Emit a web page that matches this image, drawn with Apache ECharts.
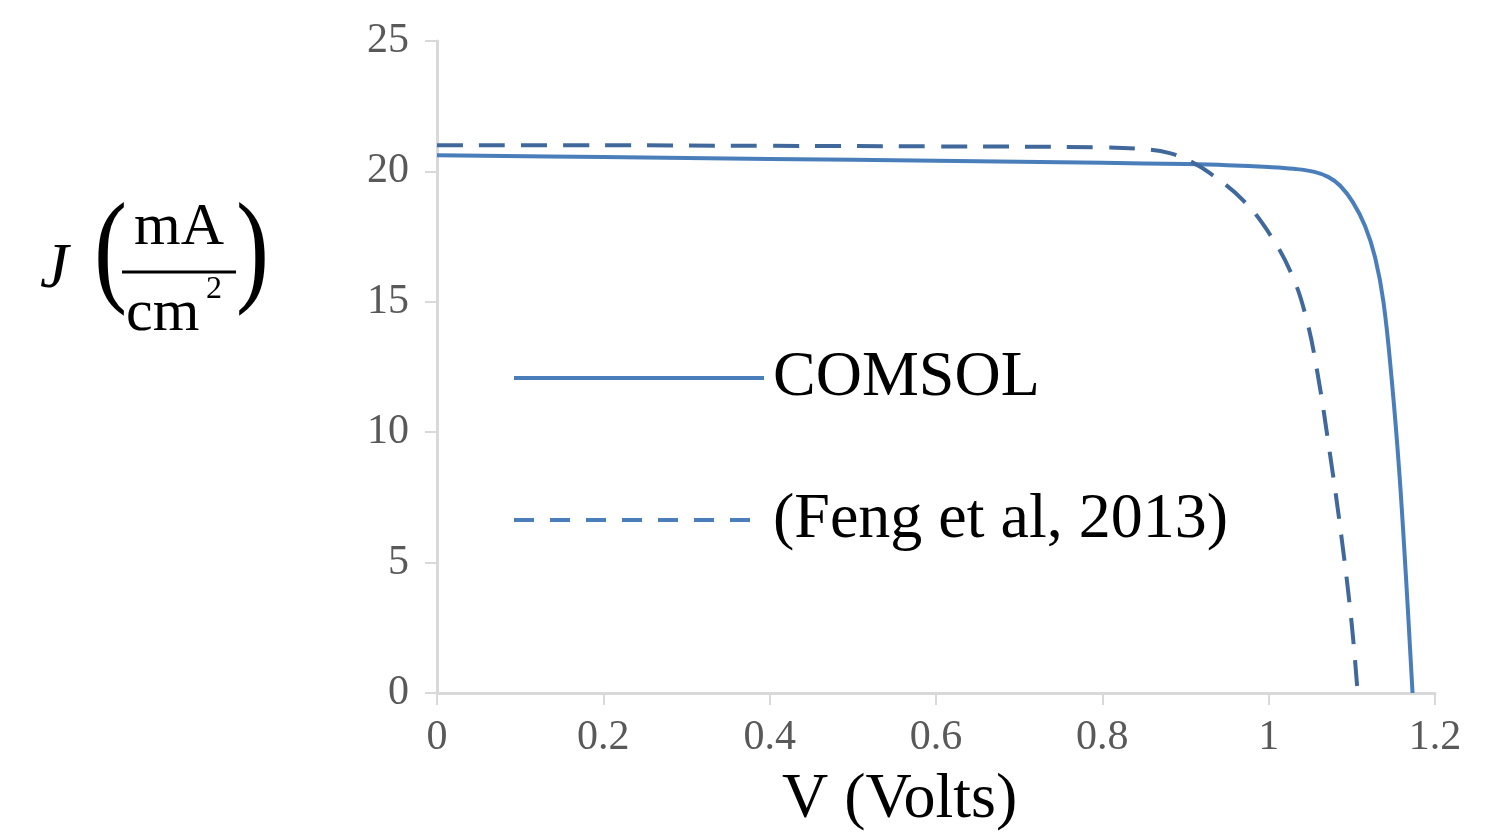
<!DOCTYPE html>
<html>
<head>
<meta charset="utf-8">
<script src="https://cdn.jsdelivr.net/npm/echarts@6/dist/echarts.min.js"></script>
<style>
  html, body { margin: 0; padding: 0; background: #fff; }
  #chart { width: 1506px; height: 840px; }
</style>
</head>
<body>
<div id="chart"></div>
<script>
// values: [V (Volts), J (mA/cm2)]
var comsol = [
  [0, 20.62], [0.2, 20.55], [0.4, 20.48], [0.6, 20.41], [0.8, 20.33], [0.9, 20.28],
  [0.95, 20.24], [1.0, 20.17], [1.03, 20.1], [1.055, 19.98], [1.072, 19.78], [1.086, 19.45],
  [1.101, 18.83], [1.116, 17.9], [1.128, 16.7], [1.138, 15.0],
  [1.148, 12.0], [1.157, 8.5], [1.165, 4.5], [1.173, 0]
];
var feng = [
  [0, 21.0], [0.2, 21.0], [0.4, 20.98], [0.6, 20.96], [0.8, 20.92], [0.85, 20.85],
  [0.881, 20.7], [0.905, 20.4], [0.929, 19.94], [0.969, 18.9], [1.002, 17.56],
  [1.028, 16.03], [1.045, 14.4], [1.058, 12.4], [1.073, 9.32], [1.088, 5.87],
  [1.1, 2.6], [1.107, 0]
];
var seriesNames = ['COMSOL', '(Feng et al, 2013)'];

var serif = '"Liberation Serif", "DejaVu Serif", serif';
var solidColor = '#4a7ebb';
var dashColor = '#41689a';
var chart = echarts.init(document.getElementById('chart'));

chart.setOption({
  animation: false,
  backgroundColor: '#ffffff',
  grid: { left: 437, right: 71, top: 41, bottom: 147 },
  xAxis: {
    type: 'value', min: 0, max: 1.2, interval: 0.2,
    axisLine: { show: true, lineStyle: { color: '#d9d9d9', width: 3 } },
    axisTick: { show: true, length: 12, lineStyle: { color: '#d9d9d9', width: 2 } },
    axisLabel: { margin: 24, color: '#595959', fontFamily: serif, fontSize: 42 },
    splitLine: { show: false }
  },
  yAxis: {
    type: 'value', min: 0, max: 25, interval: 5,
    axisLine: { show: true, lineStyle: { color: '#d9d9d9', width: 3 } },
    axisTick: { show: true, length: 12, lineStyle: { color: '#d9d9d9', width: 2 } },
    axisLabel: { margin: 28, color: '#595959', fontFamily: serif, fontSize: 42 },
    splitLine: { show: false }
  },
  legend: {
    orient: 'vertical', left: 512, top: 346, padding: 0,
    itemWidth: 250, itemHeight: 14, itemGap: 78,
    itemStyle: { opacity: 0 },
    textStyle: { fontFamily: serif, fontSize: 64, color: '#000', lineHeight: 64, padding: [0, 0, 0, 4] },
    data: [
      { name: seriesNames[0], lineStyle: { color: solidColor, width: 4 } },
      { name: seriesNames[1], lineStyle: { color: solidColor, width: 4, type: [20, 16] } }
    ]
  },
  series: [
    {
      name: seriesNames[0], type: 'line', data: comsol,
      smooth: 0.4, showSymbol: false, symbol: 'none',
      lineStyle: { color: solidColor, width: 4 }, itemStyle: { color: solidColor }
    },
    {
      name: seriesNames[1], type: 'line', data: feng,
      smooth: 0.4, showSymbol: false, symbol: 'none',
      lineStyle: { color: dashColor, width: 4, type: [26, 16] }, itemStyle: { color: dashColor }
    }
  ],
  graphic: [
    { type: 'text', left: 782, top: 768, style: { text: 'V (Volts)', font: '64px ' + serif, fill: '#000' } },
    // y axis name: J (mA / cm2)
    { type: 'text', left: 40, top: 238, style: { text: 'J', font: 'italic 64px ' + serif, fill: '#000' } },
    { type: 'text', left: 94, top: 194, scaleX: 0.8, style: { text: '(', font: '124px ' + serif, fill: '#000' } },
    { type: 'text', left: 134, top: 198, style: { text: 'mA', font: '60px ' + serif, fill: '#000' } },
    { type: 'line', shape: { x1: 122, y1: 272, x2: 236, y2: 272 }, style: { stroke: '#000', lineWidth: 3 } },
    { type: 'text', left: 126, top: 284, style: { text: 'cm', font: '60px ' + serif, fill: '#000' } },
    { type: 'text', left: 206, top: 274, style: { text: '2', font: '32px ' + serif, fill: '#000' } },
    { type: 'text', left: 236, top: 194, scaleX: 0.8, style: { text: ')', font: '124px ' + serif, fill: '#000' } }
  ]
});
</script>
</body>
</html>
